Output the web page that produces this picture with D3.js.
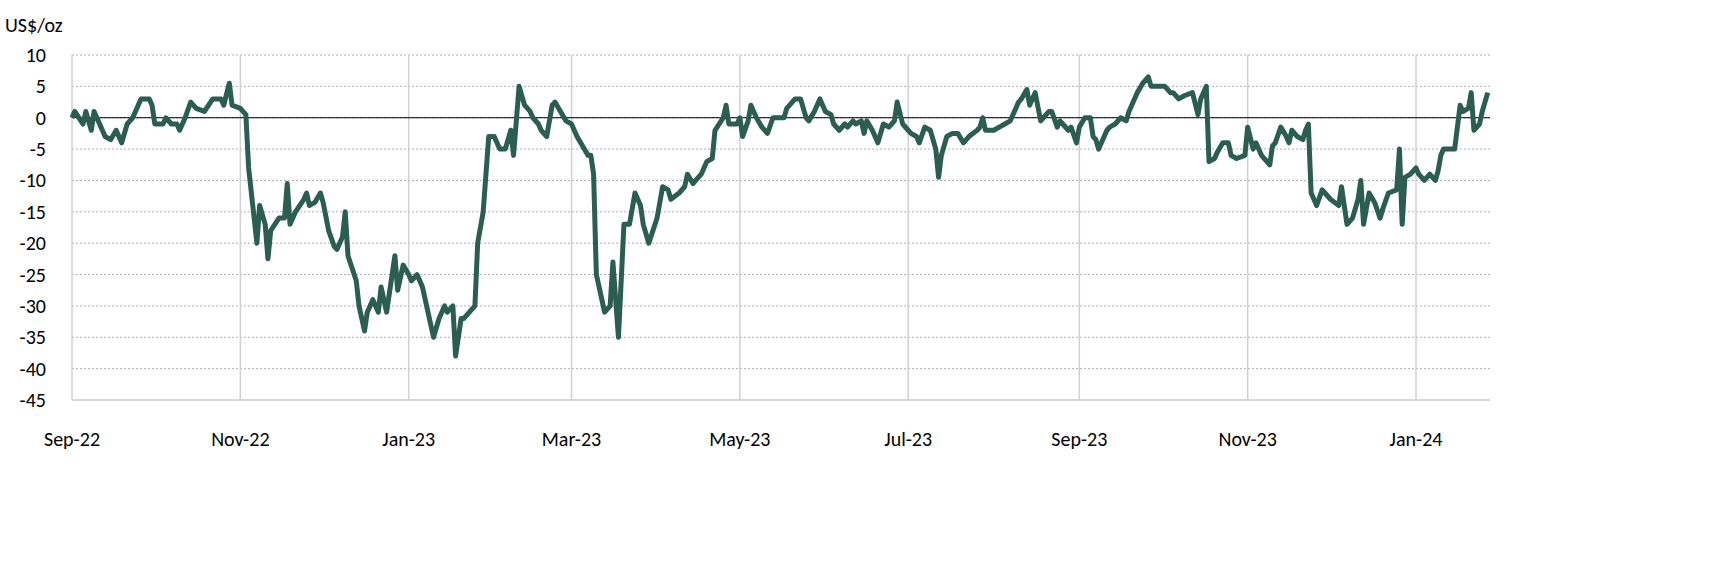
<!DOCTYPE html>
<html>
<head>
<meta charset="utf-8">
<script src="https://cdn.jsdelivr.net/npm/d3@7"></script>
<style>
  body { margin: 0; background: #fff; }
  text { font-family: Carlito, "Liberation Sans", Arial, sans-serif; }
</style>
</head>
<body>
<svg id="chart"></svg>
<script>
// days since 1 Sep 2022, spread in US$/oz
var series = [
[0,0],[1,1],[4,-1],[5,1],[7,-2],[8,1],[10,-1],[12,-3],[14,-3.5],[16,-2],[18,-4],[20,-1],[22,0],[25,3],[28,3],[29,2],[30,-1],[33,-1],[34,0],[36,-1],[38,-1],[39,-2],[41,0],[43,2.5],[45,1.5],[48,1],[51,3],[54,3],[55,2],[57,5.5],[58,2],[61,1.5],[63,0.5],
[64,-8],[67,-20],[68,-14],[70,-17],[71,-22.5],[72,-18],[75,-16],[77,-16],[78,-10.5],[79,-17],[81,-15],[84,-13],[85,-12],[86,-14],[88,-13.5],[90,-12],[91,-13.5],[93,-18],[95,-20.5],[96,-21],[98,-19],[99,-15],[100,-22],[103,-26],[104,-30],[106,-34],[107,-31],[109,-29],[111,-31],[112,-27],[114,-31],[115,-28],[117,-22],[118,-27.5],[120,-23.5],[122,-25],[123,-26],[125,-25],[127,-27],[129,-31],[131,-35],[133,-32],[135,-30],[136,-31],[138,-30],[139,-38],[141,-32],[142,-32],[144,-31],[146,-30],[147,-20],[149,-15],[151,-3],[153,-3],[155,-5],[157,-5],[159,-2],[160,-6],[162,5],[164,2],[166,1],[167,0],[169,-1],[170,-2],[172,-3],[174,2],[175,2.5],[177,1],[179,-0.5],[181,-1],[183,-3],[185,-4.5],[187,-6],[188,-6],[189,-9],[190,-25],[192,-29],[193,-31],[195,-30],[196,-23],[198,-35],[200,-17],[202,-17],[204,-12],[206,-14],[207,-17],[209,-20],[212,-16],[214,-11],[216,-11.5],[217,-13],[220,-12],[222,-11],[223,-9],[225,-10.5],[226,-10],[228,-9],[230,-7],[232,-6.5],[233,-2],[236,0],[237,2],[238,-1],[241,-1],[242,0],[243,-3],[245,-0.5],[246,2],[248,0],[250,-1.5],[252,-2.5],[254,0],[256,0],[258,0],[259,1.5],[262,3],[264,3],[266,0],[267,-0.5],[269,1],[271,3],[273,1],[275,0.5],[276,-1],[278,-2],[280,-1],[281,-1.5],[283,-0.5],[284,-1],[286,-0.5],[287,-2.5],[288,-0.5],[290,-2],[292,-4],[294,-1],[296,-1.5],[298,-0.5],[299,2.5],[301,-1],[303,-2],[304,-2.5],[306,-3],[307,-4],[309,-1.5],[311,-2],[313,-5],[314,-9.5],[315,-6],[317,-3],[319,-2.5],[321,-2.5],[323,-4],[325,-3],[328,-2],[329,-1.5],[330,0],[331,-2],[332,-2],[334,-2],[336,-1.5],[338,-1],[340,-0.5],[341,0.5],[343,2.5],[344,3],[346,4.5],[347,2],[349,4],[351,-0.5],[352,0],[354,1],[355,1],[357,-1.5],[358,-0.5],[359,-1],[361,-2],[362,-1.5],[364,-4],[365,-1.5],[367,0],[369,0],[370,-3],[371,-3.5],[372,-5],[375,-2],[376,-1.5],[378,-1],[380,0],[382,-0.5],[383,1],[386,4],[388,5.5],[390,6.5],[391,5],[394,5],[396,5],[398,4],[399,4],[401,3],[403,3.5],[406,4],[408,0.5],[409,3],[411,5],[412,-7],[414,-6.5],[415,-5.5],[417,-4],[419,-4],[420,-6],[422,-6.5],[425,-6],[426,-1.5],[428,-5],[429,-4],[431,-6],[434,-7.5],[435,-4.5],[436,-4],[438,-1.5],[440,-3],[441,-4],[442,-2],[444,-3],[446,-3.5],[447,-2],[448,-1],[449,-12],[451,-14],[453,-11.5],[454,-12],[456,-13],[459,-14],[460,-11],[462,-17],[464,-16],[466,-13],[467,-10],[468,-17],[470,-12],[472,-13.5],[474,-16],[475,-14.5],[477,-12],[480,-11.5],[481,-5],[482,-17],[483,-9.5],[485,-9],[487,-8],[488,-9],[490,-10],[492,-9],[493,-9.5],[494,-10],[495,-8.5],[496,-6],[497,-5],[500,-5],[501,-5],[503,2],[504,1],[506,1.5],[507,4],[508,-2],[510,-1],[511,1],[513,4]
];
var monthLabels = ["Sep-22","Nov-22","Jan-23","Mar-23","May-23","Jul-23","Sep-23","Nov-23","Jan-24"];
var monthDates = ["2022-09-01","2022-11-01","2023-01-01","2023-03-01","2023-05-01","2023-07-01","2023-09-01","2023-11-01","2024-01-01"];
var yTicks = [10,5,0,-5,-10,-15,-20,-25,-30,-35,-40,-45];

var W = 1726, H = 572;
var margin = {left: 72, right: 236, top: 55, bottom: 172};
var svg = d3.select("#chart").attr("width", W).attr("height", H);

var start = new Date(2022, 8, 1);
var parse = d3.timeParse("%Y-%m-%d");
var x = d3.scaleTime()
  .domain([start, parse("2024-01-01")])
  .range([72, 1416]);
var y = d3.scaleLinear().domain([-45, 10]).range([H - margin.bottom - 0, margin.top]);

// horizontal dashed grid
svg.selectAll("line.grid")
  .data(yTicks)
  .enter()
  .append("line")
  .attr("class", "grid")
  .attr("x1", margin.left).attr("x2", W - margin.right)
  .attr("y1", d => y(d)).attr("y2", d => y(d))
  .attr("stroke", "#b0b0b0")
  .attr("stroke-width", 1)
  .attr("stroke-dasharray", d => d === -45 ? null : "2,2");

// vertical month lines
svg.selectAll("line.vgrid")
  .data(monthDates)
  .enter()
  .append("line")
  .attr("x1", d => x(parse(d))).attr("x2", d => x(parse(d)))
  .attr("y1", y(10)).attr("y2", y(-45))
  .attr("stroke", "#d0d0d0")
  .attr("stroke-width", 1.5);

// zero line
svg.append("line")
  .attr("x1", margin.left).attr("x2", W - margin.right)
  .attr("y1", y(0)).attr("y2", y(0))
  .attr("stroke", "#000").attr("stroke-width", 1);

// y labels
svg.selectAll("text.ylab")
  .data(yTicks)
  .enter()
  .append("text")
  .attr("x", 46)
  .attr("y", d => y(d) + 7)
  .attr("text-anchor", "end")
  .attr("font-size", "20px")
  .text(d => d);

svg.append("text")
  .attr("x", 5).attr("y", 32)
  .attr("font-size", "20px")
  .text("US$/oz");

// x labels
svg.selectAll("text.xlab")
  .data(monthDates)
  .enter()
  .append("text")
  .attr("x", d => x(parse(d)))
  .attr("y", 446)
  .attr("text-anchor", "middle")
  .attr("font-size", "20px")
  .text((d, i) => monthLabels[i]);

// line
var line = d3.line()
  .x(d => x(d3.timeDay.offset(start, d[0])))
  .y(d => y(d[1]));

svg.append("path")
  .datum(series)
  .attr("d", line)
  .attr("fill", "none")
  .attr("stroke", "#2b5e50")
  .attr("stroke-width", 5)
  .attr("stroke-linejoin", "round");
</script>
</body>
</html>
